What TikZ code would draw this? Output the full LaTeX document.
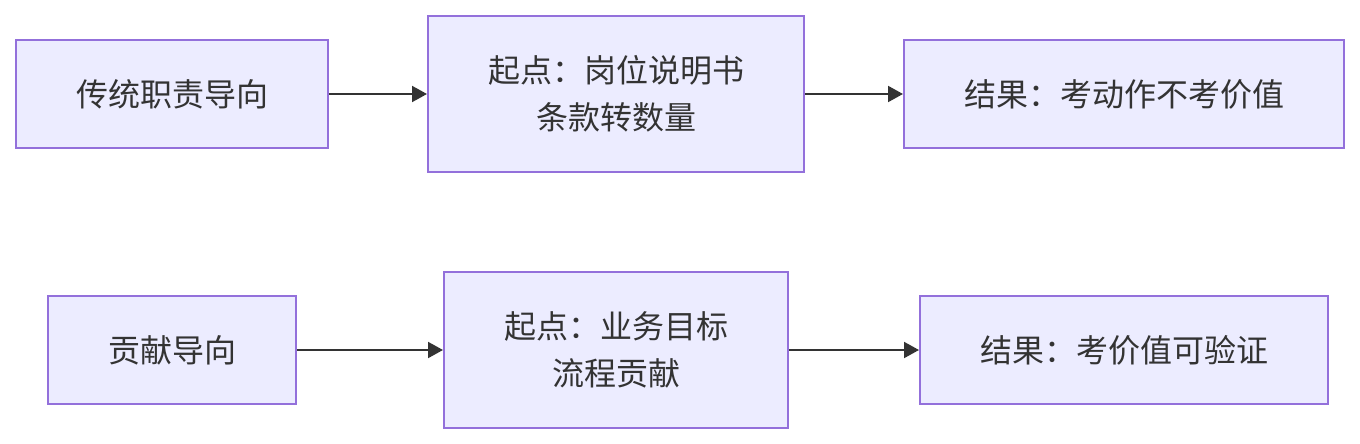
\documentclass[tikz,border=0pt]{standalone}
\usepackage{fontspec}
\setmainfont{Noto Sans CJK SC}
\usetikzlibrary{arrows.meta}
\definecolor{boxfill}{HTML}{ECECFF}
\definecolor{boxdraw}{HTML}{9370DB}
\definecolor{ink}{HTML}{333333}
\tikzset{
  flowbox/.style={draw=boxdraw, fill=boxfill, line width=2pt, text=ink,
    font=\fontsize{32}{47}\selectfont, align=center, inner sep=0pt},
  flowarrow/.style={draw=ink, line width=2pt,
    -{Triangle[length=15pt,width=16pt]}},
}
\begin{document}
\begin{tikzpicture}[x=1pt,y=-1pt]
\useasboundingbox (0,0) rectangle (1360,444);
% row 1
\node[flowbox, minimum width=312pt, minimum height=108pt] (a) at (172,94) {传统职责导向};
\node[flowbox, minimum width=376pt, minimum height=156pt] (b) at (616,94) {起点：岗位说明书\\条款转数量};
\node[flowbox, minimum width=440pt, minimum height=108pt] (c) at (1124,94) {结果：考动作不考价值};
% row 2
\node[flowbox, minimum width=248pt, minimum height=108pt] (d) at (172,350) {贡献导向};
\node[flowbox, minimum width=344pt, minimum height=156pt] (e) at (616,350) {起点：业务目标\\流程贡献};
\node[flowbox, minimum width=408pt, minimum height=108pt] (f) at (1124,350) {结果：考价值可验证};
\draw[flowarrow] (a.east) -- (b.west);
\draw[flowarrow] (b.east) -- (c.west);
\draw[flowarrow] (d.east) -- (e.west);
\draw[flowarrow] (e.east) -- (f.west);
\end{tikzpicture}
\end{document}
